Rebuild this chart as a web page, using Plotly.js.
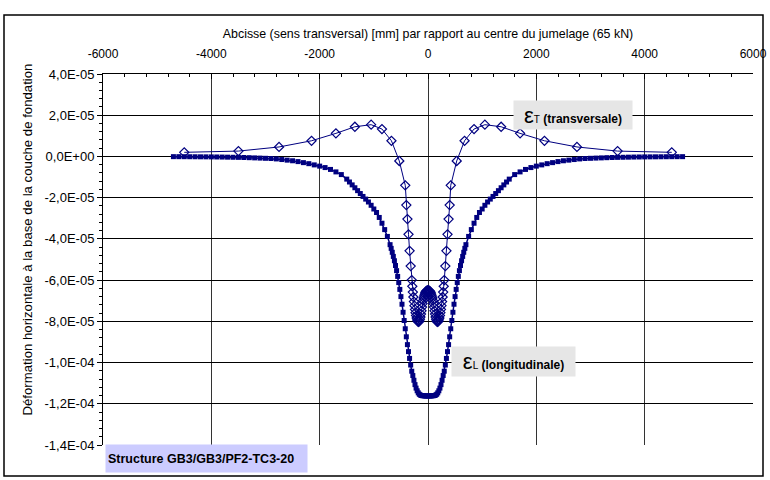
<!DOCTYPE html>
<html>
<head>
<meta charset="utf-8">
<script src="https://cdn.plot.ly/plotly-3.0.1.min.js"></script>
<style>html,body{margin:0;padding:0;background:#fff;}#chart{width:770px;height:480px;}</style>
</head>
<body>
<div id="chart"></div>
<script>
// ε_L (longitudinale): abscissa [mm] and strain
const xLong = [-4700,-4600,-4500,-4400,-4300,-4200,-4100,-4000,-3900,-3800,-3700,-3600,-3500,-3400,-3300,-3200,-3100,-3000,-2900,-2800,-2700,-2600,-2500,-2400,-2300,-2200,-2100,-2000,-1900,-1800,-1700,-1600,
 -1500,-1450,-1400,-1350,-1300,-1250,-1200,-1150,-1100,-1050,-1000,-950,-900,-850,-800,-750,
 -700,-680,-660,-640,-620,-600,-580,-560,-540,-520,-500,-480,-460,-440,-420,-400,-380,-360,-340,-320,-300,-280,-260,-240,-220,-200,-180,-160,-140,-120,-100,-80,-60,-40,-20,
 0,
 20,40,60,80,100,120,140,160,180,200,220,240,260,280,300,320,340,360,380,400,420,440,460,480,500,520,540,560,580,600,620,640,660,680,700,
 750,800,850,900,950,1000,1050,1100,1150,1200,1250,1300,1350,1400,1450,1500,
 1600,1700,1800,1900,2000,2100,2200,2300,2400,2500,2600,2700,2800,2900,3000,3100,3200,3300,3400,3500,3600,3700,3800,3900,4000,4100,4200,4300,4400,4500,4600,4700];
const epsLong = [-0.010e-5,-0.011e-5,-0.012e-5,-0.014e-5,-0.016e-5,-0.018e-5,-0.020e-5,-0.022e-5,-0.026e-5,-0.030e-5,-0.035e-5,-0.040e-5,-0.045e-5,-0.05e-5,-0.06e-5,-0.07e-5,-0.08e-5,-0.09e-5,-0.10e-5,-0.12e-5,-0.15e-5,-0.18e-5,-0.21e-5,-0.25e-5,-0.30e-5,-0.35e-5,-0.41e-5,-0.47e-5,-0.54e-5,-0.63e-5,-0.75e-5,-0.88e-5,
 -1.10e-5,-1.24e-5,-1.38e-5,-1.52e-5,-1.66e-5,-1.80e-5,-1.94e-5,-2.07e-5,-2.21e-5,-2.37e-5,-2.55e-5,-2.72e-5,-2.96e-5,-3.24e-5,-3.55e-5,-3.88e-5,
 -4.28e-5,-4.46e-5,-4.65e-5,-4.85e-5,-5.06e-5,-5.29e-5,-5.54e-5,-5.82e-5,-6.12e-5,-6.45e-5,-6.80e-5,-7.17e-5,-7.56e-5,-7.96e-5,-8.36e-5,-8.75e-5,-9.13e-5,-9.47e-5,-9.80e-5,-10.12e-5,-10.42e-5,-10.63e-5,-10.86e-5,-11.07e-5,-11.24e-5,-11.37e-5,-11.47e-5,-11.54e-5,-11.58e-5,-11.60e-5,-11.61e-5,-11.61e-5,-11.62e-5,-11.62e-5,-11.62e-5,
 -11.62e-5,
 -11.62e-5,-11.62e-5,-11.62e-5,-11.61e-5,-11.61e-5,-11.60e-5,-11.58e-5,-11.54e-5,-11.47e-5,-11.37e-5,-11.24e-5,-11.07e-5,-10.86e-5,-10.63e-5,-10.42e-5,-10.12e-5,-9.80e-5,-9.47e-5,-9.13e-5,-8.75e-5,-8.36e-5,-7.96e-5,-7.56e-5,-7.17e-5,-6.80e-5,-6.45e-5,-6.12e-5,-5.82e-5,-5.54e-5,-5.29e-5,-5.06e-5,-4.85e-5,-4.65e-5,-4.46e-5,-4.28e-5,
 -3.88e-5,-3.55e-5,-3.24e-5,-2.96e-5,-2.72e-5,-2.55e-5,-2.37e-5,-2.21e-5,-2.07e-5,-1.94e-5,-1.80e-5,-1.66e-5,-1.52e-5,-1.38e-5,-1.24e-5,-1.10e-5,
 -0.88e-5,-0.75e-5,-0.63e-5,-0.54e-5,-0.47e-5,-0.41e-5,-0.35e-5,-0.30e-5,-0.25e-5,-0.21e-5,-0.18e-5,-0.15e-5,-0.12e-5,-0.10e-5,-0.09e-5,-0.08e-5,-0.07e-5,-0.06e-5,-0.05e-5,-0.045e-5,-0.040e-5,-0.035e-5,-0.030e-5,-0.026e-5,-0.022e-5,-0.020e-5,-0.018e-5,-0.016e-5,-0.014e-5,-0.012e-5,-0.011e-5,-0.010e-5];

// ε_T (transversale)
const xTrans = [-4500,-3500,-2750,-2150,-1700,-1350,-1050,-850,-675,-530,-420,-400,-380,-360,-340,-320,
 -300,-290,-280,-270,-260,-250,-240,-230,-220,-210,-200,-190,-180,-170,-160,-150,-140,-130,-120,-110,-100,-90,-80,-70,-60,-50,-40,-30,-20,-10,
 0,
 10,20,30,40,50,60,70,80,90,100,110,120,130,140,150,160,170,180,190,200,210,220,230,240,250,260,270,280,290,300,
 320,340,360,380,400,420,530,675,850,1050,1350,1700,2150,2750,3500,4500];
const epsTrans = [0.20e-5,0.26e-5,0.46e-5,0.76e-5,1.12e-5,1.44e-5,1.54e-5,1.33e-5,0.76e-5,-0.22e-5,-1.40e-5,-2.36e-5,-3.04e-5,-3.78e-5,-4.58e-5,-5.32e-5,
 -6.00e-5,-6.30e-5,-6.58e-5,-6.82e-5,-7.04e-5,-7.24e-5,-7.42e-5,-7.58e-5,-7.72e-5,-7.84e-5,-7.93e-5,-7.99e-5,-8.02e-5,-8.02e-5,-7.98e-5,-7.90e-5,-7.79e-5,-7.65e-5,-7.49e-5,-7.31e-5,-7.14e-5,-6.99e-5,-6.87e-5,-6.77e-5,-6.68e-5,-6.61e-5,-6.56e-5,-6.53e-5,-6.51e-5,-6.50e-5,
 -6.50e-5,
 -6.50e-5,-6.51e-5,-6.53e-5,-6.56e-5,-6.61e-5,-6.68e-5,-6.77e-5,-6.87e-5,-6.99e-5,-7.14e-5,-7.31e-5,-7.49e-5,-7.65e-5,-7.79e-5,-7.90e-5,-7.98e-5,-8.02e-5,-8.02e-5,-7.99e-5,-7.93e-5,-7.84e-5,-7.72e-5,-7.58e-5,-7.42e-5,-7.24e-5,-7.04e-5,-6.82e-5,-6.58e-5,-6.30e-5,-6.00e-5,
 -5.32e-5,-4.58e-5,-3.78e-5,-3.04e-5,-2.36e-5,-1.40e-5,-0.22e-5,0.76e-5,1.33e-5,1.54e-5,1.44e-5,1.12e-5,0.76e-5,0.46e-5,0.26e-5,0.20e-5];

const yTickVals = [4e-5,2e-5,0,-2e-5,-4e-5,-6e-5,-8e-5,-1e-4,-1.2e-4,-1.4e-4];
const yTickText = ['4,0E-05','2,0E-05','0,0E+00','-2,0E-05','-4,0E-05','-6,0E-05','-8,0E-05','-1,0E-04','-1,2E-04','-1,4E-04'];
const xTickVals = [-6000,-4000,-2000,0,2000,4000,6000];
const xTickText = ['-6000','-4000','-2000','0','2000','4000','6000'];
const yTitle = 'Déformation horizontale à la base de la couche de fondation';
const xTitle = 'Abcisse (sens transversal) [mm] par rapport au centre du jumelage (65 kN)';

const navy = '#000080';
const font = 'Liberation Sans, Arial, sans-serif';

const traces = [
 {x: xLong, y: epsLong, type:'scatter', mode:'lines+markers', name:'εL',
  line:{color:navy, width:1.5}, marker:{symbol:'square', size:5, color:navy}},
 {x: xTrans, y: epsTrans, type:'scatter', mode:'lines+markers', name:'εT',
  line:{color:navy, width:1}, marker:{symbol:'diamond-open', size:7, color:navy, line:{width:1.2, color:navy}}}
];

const L=103, R=753, T=74, B=445, W=770, H=480;
const px = p => (p-L)/(R-L);
const py = q => (B-q)/(B-T);

const layout = {
 width: W, height: H,
 margin:{l:L, r:W-R, t:T, b:H-B, pad:0},
 paper_bgcolor:'#fff', plot_bgcolor:'#fff',
 showlegend:false,
 font:{family:font, size:12, color:'#000'},
 xaxis:{
  side:'top', range:[-6000,6000], tickmode:'array', tickvals:xTickVals, ticktext:xTickText,
  ticks:'inside', ticklen:5, tickcolor:'#000', showline:true, linecolor:'#000', linewidth:1,
  showgrid:true, gridcolor:'#333', gridwidth:1, zeroline:false,
  ticklabelstandoff:10,
  tickfont:{family:font, size:12, color:'#000'},
  minor:{dtick:400, tick0:0, ticks:'inside', ticklen:3, tickcolor:'#000', showgrid:false},
  title:{text:xTitle, font:{family:font, size:12.4, color:'#000'}, standoff:5},
  fixedrange:true
 },
 yaxis:{
  range:[-1.4e-4, 4e-5], tickmode:'array', tickvals:yTickVals, ticktext:yTickText,
  ticks:'outside', ticklen:5, tickcolor:'#000', showline:true, linecolor:'#000', linewidth:1,
  showgrid:true, gridcolor:'#000', gridwidth:1, zeroline:false,
  tickfont:{family:font, size:13, color:'#000'},
  minor:{dtick:4e-6, tick0:0, ticks:'outside', ticklen:3, tickcolor:'#000', showgrid:false},
  fixedrange:true
 },
 shapes:[
  {type:'rect', xref:'paper', yref:'paper', x0:px(4), x1:px(763), y0:py(476), y1:py(15), line:{color:'#000', width:1.5}, layer:'below'}
 ],
 annotations:[
  {xref:'paper', yref:'paper', x:px(27), y:py(239.5), xanchor:'center', yanchor:'middle', showarrow:false, textangle:-90,
   text:yTitle, font:{family:font, size:13.2, color:'#000'}},
  {xref:'x', yref:'y', x:2683, y:2.01e-5, xanchor:'center', yanchor:'middle', showarrow:false, width:118, height:28, bgcolor:'#e6e6e6', borderpad:0,
   text:'<span style="font-size:22px">ε</span><span style="font-size:10px">T</span> <b>(transversale)</b>', font:{family:font, size:12, color:'#000'}},
  {xref:'x', yref:'y', x:1584, y:-9.96e-5, xanchor:'center', yanchor:'middle', showarrow:false, width:123, height:29, bgcolor:'#e6e6e6', borderpad:0,
   text:'<span style="font-size:22px">ε</span><span style="font-size:10px">L</span> <b>(longitudinale)</b>', font:{family:font, size:12, color:'#000'}},
  {xref:'paper', yref:'paper', x:px(206.5), y:py(458.3), xanchor:'center', yanchor:'middle', showarrow:false, width:197, height:23, bgcolor:'#ccccff', borderpad:2, align:'left',
   text:'<b>Structure GB3/GB3/PF2-TC3-20</b>', font:{family:font, size:12.5, color:'#000'}}
 ]
};

Plotly.newPlot('chart', traces, layout, {displayModeBar:false, staticPlot:true});
</script>
</body>
</html>
